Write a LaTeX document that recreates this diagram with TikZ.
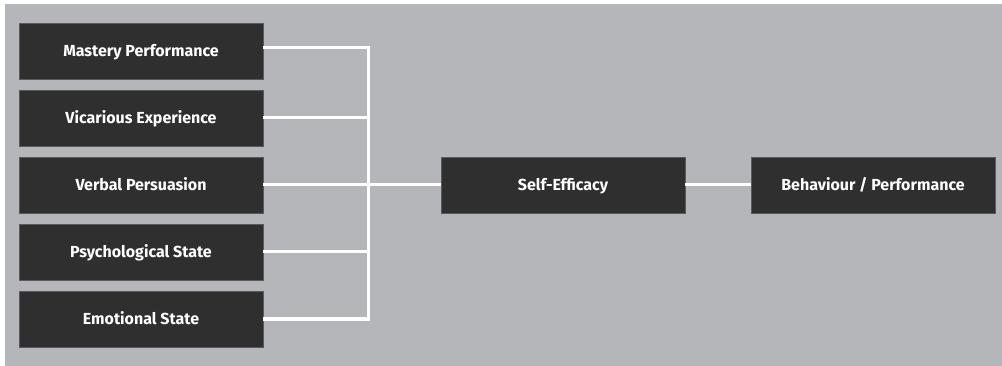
\documentclass[tikz,border=0pt]{standalone}
\usepackage{fontspec}
\setmainfont{Fira Sans}
\definecolor{bggray}{HTML}{B5B6B9}
\definecolor{boxfill}{HTML}{2F2F2F}
\definecolor{boxline}{HTML}{5A5A5C}
\begin{document}
\begin{tikzpicture}[x=1pt,y=-1pt,
  fbox/.style={draw=boxline,line width=0.8pt,fill=boxfill,minimum width=244pt,minimum height=56pt,inner sep=0pt,text height=11pt,text depth=0pt,text=white,font=\fontsize{16}{18}\selectfont\bfseries},
  wire/.style={draw=white,line width=3pt}]
\useasboundingbox (0,0) rectangle (1002,366);
\fill[bggray] (5,4) rectangle (1002,366);
\node[fbox] (m) at (141,51) {Mastery Performance};
\node[fbox] (v) at (141,118) {Vicarious Experience};
\node[fbox] (p) at (141,185) {Verbal Persuasion};
\node[fbox] (s) at (141,252) {Psychological State};
\node[fbox] (e) at (141,319) {Emotional State};
\node[fbox] (se) at (563,185) {Self-Efficacy};
\node[fbox] (bp) at (873,185) {Behaviour / Performance};
\coordinate (jt) at (368,48);
\coordinate (jb) at (368,319);
\draw[wire] (m.east |- jt) -- (jt) -- (jb) -- (e.east);
\draw[wire] (v.east) -- (v.east -| jt);
\draw[wire] (s.east) -- (s.east -| jt);
\draw[wire] (p.east) -- (se.west);
\draw[wire] (se.east) -- (bp.west);
\end{tikzpicture}
\end{document}
